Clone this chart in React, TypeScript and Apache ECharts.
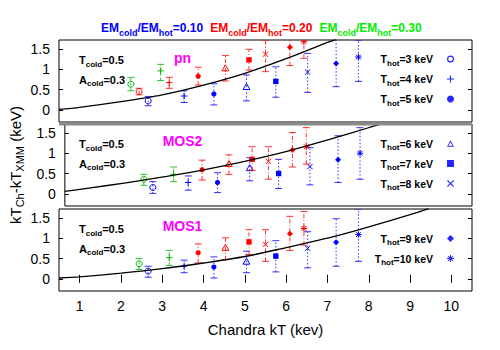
import React, { useEffect, useRef } from 'react';
import * as echarts from 'echarts';

// ---------- data ----------
const thotValues = [3, 4, 5, 6, 7, 8, 9, 10];
const xTickValues = [1, 2, 3, 4, 5, 6, 7, 8, 9, 10];
const yTickValues = [0, 0.5, 1, 1.5];
const panelNames = ['pn', 'MOS2', 'MOS1'];
const emRatios = ['0.10', '0.20', '0.30'];
const legendThots = [[3, 4, 5], [6, 7, 8], [9, 10]];

const blueX = [2.66, 3.53, 4.25, 5.04, 5.75, 6.52, 7.21, 7.75];
const redX = [2.44, 3.17, 3.87, 4.53, 5.10, 5.50, 6.09, 6.43];
const greenXpn = [2.24, 2.96];
const greenXmos = [2.44, 3.17];

// pn
const pnBlueY = [0.22, 0.34, 0.39, 0.56, 0.70, 0.93, 1.14, 1.30];
const pnBlueLo = [0.10, 0.18, 0.12, 0.22, 0.31, 0.43, 0.57, 0.70];
const pnBlueHi = [0.33, 0.47, 0.64, 0.86, 1.06, 1.39, 1.85, 1.72];
const pnRedY = [0.45, 0.67, 0.83, 1.02, 1.23, 1.37, 1.54, 1.68];
const pnRedLo = [0.37, 0.53, 0.61, 0.71, 0.98, 0.94, 1.09, 1.27];
const pnRedHi = [0.53, 0.80, 1.05, 1.34, 1.49, 1.72, 1.85, 1.90];
const pnGreenY = [0.63, 0.96];
const pnGreenLo = [0.47, 0.72];
const pnGreenHi = [0.80, 1.12];

// MOS2
const m2BlueY = [0.155, 0.28, 0.28, 0.63, 0.50, 0.67, 0.84, 1.00];
const m2BlueLo = [0.01, 0.09, 0.03, 0.32, 0.13, 0.22, 0.28, 0.36];
const m2BlueHi = [0.30, 0.44, 0.52, 0.89, 0.85, 1.14, 1.43, 1.63];
const m2RedY = [null, null, 0.59, 0.73, 0.85, 0.80, 1.08, 1.16];
const m2RedLo = [null, null, 0.34, 0.48, 0.58, 0.36, 0.66, 0.73];
const m2RedHi = [null, null, 0.83, 0.96, 1.16, 1.16, 1.51, 1.63];
const m2GreenY = [0.36, 0.48];
const m2GreenLo = [0.21, 0.30];
const m2GreenHi = [0.48, 0.66];

// MOS1
const m1BlueY = [0.19, 0.31, 0.29, 0.42, 0.56, 0.75, 0.90, 1.09];
const m1BlueLo = [0.04, 0.15, 0.02, 0.15, 0.17, 0.27, 0.31, 0.43];
const m1BlueHi = [0.31, 0.46, 0.54, 0.68, 0.94, 1.16, 1.48, 1.72];
const m1RedY = [null, null, 0.64, 0.76, 0.91, 0.85, 1.11, 1.24];
const m1RedLo = [null, null, 0.39, 0.47, 0.60, 0.43, 0.70, 0.83];
const m1RedHi = [null, null, 0.86, 1.01, 1.21, 1.21, 1.54, 1.66];
const m1GreenY = [0.37, 0.52];
const m1GreenLo = [0.23, 0.33];
const m1GreenHi = [0.50, 0.70];

// model curves
const pnCurveX = [0.5, 1, 2, 3, 4, 5, 6, 7, 7.2];
const pnCurveY = [0.01, 0.06, 0.2, 0.37, 0.61, 0.9, 1.26, 1.66, 1.73];
const m2CurveX = [0.5, 1, 2, 3, 4, 5, 6, 7, 8, 8.3];
const m2CurveY = [0.06, 0.13, 0.27, 0.43, 0.61, 0.82, 1.06, 1.34, 1.64, 1.73];
const m1CurveX = [0.5, 1, 2, 3, 4, 5, 6, 7, 8, 9, 9.45];
const m1CurveY = [0.02, 0.05, 0.14, 0.25, 0.39, 0.55, 0.77, 1.0, 1.28, 1.58, 1.73];

// ---------- styling ----------
const FONT = "'Liberation Sans', Arial, Helvetica, sans-serif";
const COLORS = ['#0000ff', '#ff0000', '#00b400'];
const TITLE_COLORS = ['#0000ff', '#ff0000', '#00ee00'];
const DASHES = [[1.5, 2], [4, 2, 1, 2], [3, 2]];

const GRID_TOPS = [40, 124, 209];
const GRID_H = 82;
const GRID_LEFT = 59;
const GRID_RIGHT = 28;
const LEGEND_TOPS = [53, 137.5, 232.5];

const RING = 'path://M5,0A5,5 0 1 1 5,10A5,5 0 1 1 5,0ZM5,1.7A3.3,3.3 0 1 0 5,8.3A3.3,3.3 0 1 0 5,1.7Z';
const TRI = 'path://M5,0L10,9L0,9ZM5,2.8L1.9,7.8L8.1,7.8Z';
const PLUS = 'path://M4.2,0H5.8V4.2H10V5.8H5.8V10H4.2V5.8H0V4.2H4.2Z';
const CROSS = 'path://M1.2,0L5,3.8L8.8,0L10,1.2L6.2,5L10,8.8L8.8,10L5,6.2L1.2,10L0,8.8L3.8,5L0,1.2Z';
const STAR = 'path://M4.3,0H5.7V3.3L8.1,0.9L9.1,1.9L6.7,4.3H10V5.7H6.7L9.1,8.1L8.1,9.1L5.7,6.7V10H4.3V6.7L1.9,9.1L0.9,8.1L3.3,5.7H0V4.3H3.3L0.9,1.9L1.9,0.9L4.3,3.3Z';
const ICONS = [RING, PLUS, 'circle', TRI, 'rect', CROSS, 'diamond', STAR];

const subRich = (size: number, color = '#000') => ({
  b: { fontSize: size, fontWeight: 'bold', color, lineHeight: 16, verticalAlign: 'middle', fontFamily: FONT },
  s: { fontSize: Math.round(size * 0.75), fontWeight: 'bold', color, lineHeight: 8, verticalAlign: 'bottom', fontFamily: FONT },
  g: { width: 9 },
});

function marker(kind: number, cx: number, cy: number, color: string) {
  const ln = (x1: number, y1: number, x2: number, y2: number) => ({
    type: 'line', shape: { x1, y1, x2, y2 }, style: { stroke: color, lineWidth: 1 },
  });
  const r = 3.2;
  switch (kind) {
    case 0:
      return [{ type: 'circle', shape: { cx, cy, r: 3 }, style: { fill: 'none', stroke: color, lineWidth: 1 } }];
    case 1:
      return [ln(cx - r, cy, cx + r, cy), ln(cx, cy - r, cx, cy + r)];
    case 2:
      return [{ type: 'circle', shape: { cx, cy, r: 2.6 }, style: { fill: color } }];
    case 3:
      return [{ type: 'polygon', shape: { points: [[cx, cy - 3.6], [cx + 3.4, cy + 2.4], [cx - 3.4, cy + 2.4]] }, style: { fill: 'none', stroke: color, lineWidth: 1 } }];
    case 4:
      return [{ type: 'rect', shape: { x: cx - 2.7, y: cy - 2.7, width: 5.4, height: 5.4 }, style: { fill: color } }];
    case 5:
      return [ln(cx - 2.6, cy - 2.6, cx + 2.6, cy + 2.6), ln(cx - 2.6, cy + 2.6, cx + 2.6, cy - 2.6)];
    case 6:
      return [{ type: 'polygon', shape: { points: [[cx, cy - 3], [cx + 3, cy], [cx, cy + 3], [cx - 3, cy]] }, style: { fill: color } }];
    default:
      return [
        ln(cx - r, cy, cx + r, cy), ln(cx, cy - r, cx, cy + r),
        ln(cx - 2.4, cy - 2.4, cx + 2.4, cy + 2.4), ln(cx - 2.4, cy + 2.4, cx + 2.4, cy - 2.4),
      ];
  }
}

function renderErr(kind: number) {
  return (params: any, api: any) => {
    const x = api.value(0), y = api.value(1), lo = api.value(2), hi = api.value(3), ci = api.value(4);
    const p = api.coord([x, y]);
    const pl = api.coord([x, lo]);
    const ph = api.coord([x, hi]);
    const color = COLORS[ci];
    const c = 3.5;
    return {
      type: 'group',
      children: [
        { type: 'line', shape: { x1: p[0], y1: pl[1], x2: p[0], y2: ph[1] }, style: { stroke: color, lineWidth: 1, lineDash: DASHES[ci], opacity: 0.8 } },
        { type: 'line', shape: { x1: p[0] - c, y1: pl[1], x2: p[0] + c, y2: pl[1] }, style: { stroke: color, lineWidth: 1, opacity: 0.8 } },
        { type: 'line', shape: { x1: p[0] - c, y1: ph[1], x2: p[0] + c, y2: ph[1] }, style: { stroke: color, lineWidth: 1, opacity: 0.8 } },
        ...marker(kind, p[0], p[1], color),
      ],
    };
  };
}

type PanelData = {
  blueY: (number | null)[]; blueLo: (number | null)[]; blueHi: (number | null)[];
  redY: (number | null)[]; redLo: (number | null)[]; redHi: (number | null)[];
  greenX: number[]; greenY: number[]; greenLo: number[]; greenHi: number[];
  curveX: number[]; curveY: number[];
};

const panels: PanelData[] = [
  { blueY: pnBlueY, blueLo: pnBlueLo, blueHi: pnBlueHi, redY: pnRedY, redLo: pnRedLo, redHi: pnRedHi,
    greenX: greenXpn, greenY: pnGreenY, greenLo: pnGreenLo, greenHi: pnGreenHi, curveX: pnCurveX, curveY: pnCurveY },
  { blueY: m2BlueY, blueLo: m2BlueLo, blueHi: m2BlueHi, redY: m2RedY, redLo: m2RedLo, redHi: m2RedHi,
    greenX: greenXmos, greenY: m2GreenY, greenLo: m2GreenLo, greenHi: m2GreenHi, curveX: m2CurveX, curveY: m2CurveY },
  { blueY: m1BlueY, blueLo: m1BlueLo, blueHi: m1BlueHi, redY: m1RedY, redLo: m1RedLo, redHi: m1RedHi,
    greenX: greenXmos, greenY: m1GreenY, greenLo: m1GreenLo, greenHi: m1GreenHi, curveX: m1CurveX, curveY: m1CurveY },
];

const seriesName = (t: number) => `Thot=${t} keV`;

function buildOption() {
  const grid: any[] = [];
  const xAxis: any[] = [];
  const yAxis: any[] = [];
  const series: any[] = [];
  const legend: any[] = [];

  panels.forEach((pd, i) => {
    grid.push({ left: GRID_LEFT, right: GRID_RIGHT, top: GRID_TOPS[i], height: GRID_H, show: true, borderColor: '#000', borderWidth: 1, backgroundColor: 'transparent' });
    const isBottom = i === 2;
    xAxis.push({
      type: 'value', gridIndex: i, min: 0.5, max: 10.5, position: 'bottom',
      axisLine: { show: false }, splitLine: { show: false },
      axisTick: { show: isBottom, inside: true, length: 4, customValues: xTickValues, lineStyle: { color: '#000' } },
      axisLabel: { show: isBottom, customValues: xTickValues, fontSize: 14, color: '#000', margin: 8, fontFamily: FONT },
      name: isBottom ? 'Chandra kT (kev)' : '', nameLocation: 'middle', nameGap: 31,
      nameTextStyle: { fontSize: 15, color: '#000', fontFamily: FONT },
    });
    xAxis.push({
      type: 'value', gridIndex: i, min: 0.5, max: 10.5, position: 'top',
      axisLine: { show: false }, splitLine: { show: false }, axisLabel: { show: false },
      axisTick: { show: isBottom, inside: true, length: 4, customValues: xTickValues, lineStyle: { color: '#000' } },
    });
    yAxis.push({
      type: 'value', gridIndex: i, min: -0.3, max: 1.72, position: 'left',
      axisLine: { show: false }, splitLine: { show: false },
      axisTick: { show: true, inside: true, length: 4, customValues: yTickValues, lineStyle: { color: '#000' } },
      axisLabel: { customValues: yTickValues, fontSize: 14, color: '#000', margin: 9, fontFamily: FONT },
      name: i === 1 ? '{m|kT}{s|Ch}{m|-kT}{s|XMM}{m| (keV)}' : '',
      nameLocation: 'middle', nameRotate: 90, nameGap: 32,
      nameTextStyle: {
        rich: {
          m: { fontSize: 15, color: '#000', lineHeight: 20, verticalAlign: 'middle', fontFamily: FONT },
          s: { fontSize: 11, color: '#000', lineHeight: 11, verticalAlign: 'bottom', fontFamily: FONT },
        },
      },
    });
    yAxis.push({
      type: 'value', gridIndex: i, min: -0.3, max: 1.72, position: 'right',
      axisLine: { show: false }, splitLine: { show: false }, axisLabel: { show: false },
      axisTick: { show: true, inside: true, length: 4, customValues: yTickValues, lineStyle: { color: '#000' } },
    });

    series.push({
      type: 'line', name: 'model' + i, xAxisIndex: 2 * i, yAxisIndex: 2 * i,
      data: pd.curveX.map((x, k) => [x, pd.curveY[k]]),
      smooth: 0.3, showSymbol: false, symbol: 'none', clip: true,
      lineStyle: { color: '#000', width: 1.3 }, z: 3,
    });

    thotValues.forEach((t, k) => {
      const data: number[][] = [];
      if (pd.blueY[k] != null) data.push([blueX[k], pd.blueY[k] as number, pd.blueLo[k] as number, pd.blueHi[k] as number, 0]);
      if (pd.redY[k] != null) data.push([redX[k], pd.redY[k] as number, pd.redLo[k] as number, pd.redHi[k] as number, 1]);
      if (k < pd.greenY.length) data.push([pd.greenX[k], pd.greenY[k], pd.greenLo[k], pd.greenHi[k], 2]);
      series.push({
        type: 'custom', name: seriesName(t), xAxisIndex: 2 * i, yAxisIndex: 2 * i,
        clip: true, renderItem: renderErr(k), data, z: 2,
        itemStyle: { color: COLORS[0] },
      });
    });

    legend.push({
      orient: 'vertical', right: 46, top: LEGEND_TOPS[i], align: 'right', padding: 0,
      itemWidth: 7, itemHeight: 7, itemGap: 6, selectedMode: false,
      data: legendThots[i].map((t) => ({
        name: seriesName(t), icon: ICONS[thotValues.indexOf(t)],
        itemStyle: { color: COLORS[0], borderWidth: 0, opacity: 0.85 },
      })),
      formatter: (name: string) => {
        const n = name.replace('Thot=', '').replace(' keV', '');
        return `{b|T}{s|hot}{b|=${n} keV}{g|}`;
      },
      textStyle: { rich: subRich(10.5) },
    });
  });

  const titleText = emRatios.map((r, i) => `{b${i}|EM}{s${i}|cold}{b${i}|/EM}{s${i}|hot}{b${i}|=${r}}`).join('{g|}');
  const titleRich: any = { g: { width: 7 } };
  TITLE_COLORS.forEach((c, i) => {
    titleRich['b' + i] = { fontSize: 12, fontWeight: 'bold', color: c, lineHeight: 16, verticalAlign: 'middle', fontFamily: FONT };
    titleRich['s' + i] = { fontSize: 9, fontWeight: 'bold', color: c, lineHeight: 9, verticalAlign: 'bottom', fontFamily: FONT };
  });

  const graphic: any[] = [];
  const noteYs = [[60, 79.5], [144, 163.5], [229, 248.5]];
  const labelYs = [57.5, 141.3, 225.7];
  panels.forEach((_, i) => {
    graphic.push({ type: 'text', x: 79, y: noteYs[i][0], z: 10, style: { text: '{b|T}{s|cold}{b|=0.5}', rich: subRich(11), verticalAlign: 'middle' } });
    graphic.push({ type: 'text', x: 79, y: noteYs[i][1], z: 10, style: { text: '{b|A}{s|cold}{b|=0.3}', rich: subRich(11), verticalAlign: 'middle' } });
    graphic.push({ type: 'text', x: 182.5, y: labelYs[i], z: 10, style: { text: panelNames[i], fill: '#ff00ff', fontSize: 14, fontWeight: 'bold', fontFamily: FONT, align: 'center', verticalAlign: 'middle' } });
  });
  graphic.push({ type: 'rect', z: 20, shape: { x: GRID_LEFT, y: 122.5, width: 500 - GRID_LEFT - GRID_RIGHT, height: 3 }, style: { fill: '#8a8a8a' } });

  return {
    animation: false,
    backgroundColor: '#fff',
    textStyle: { fontFamily: FONT },
    title: { text: titleText, left: 101, top: 19, padding: 0, textStyle: { rich: titleRich } },
    grid, xAxis, yAxis, series, legend, graphic,
  };
}

export default function App() {
  const ref = useRef<HTMLDivElement>(null);
  useEffect(() => {
    if (!ref.current) return;
    const chart = echarts.init(ref.current, null, { renderer: 'svg' });
    chart.setOption(buildOption() as any);
    return () => chart.dispose();
  }, []);
  return <div ref={ref} style={{ position: 'fixed', left: 0, top: 0, width: 500, height: 350 }} />;
}
